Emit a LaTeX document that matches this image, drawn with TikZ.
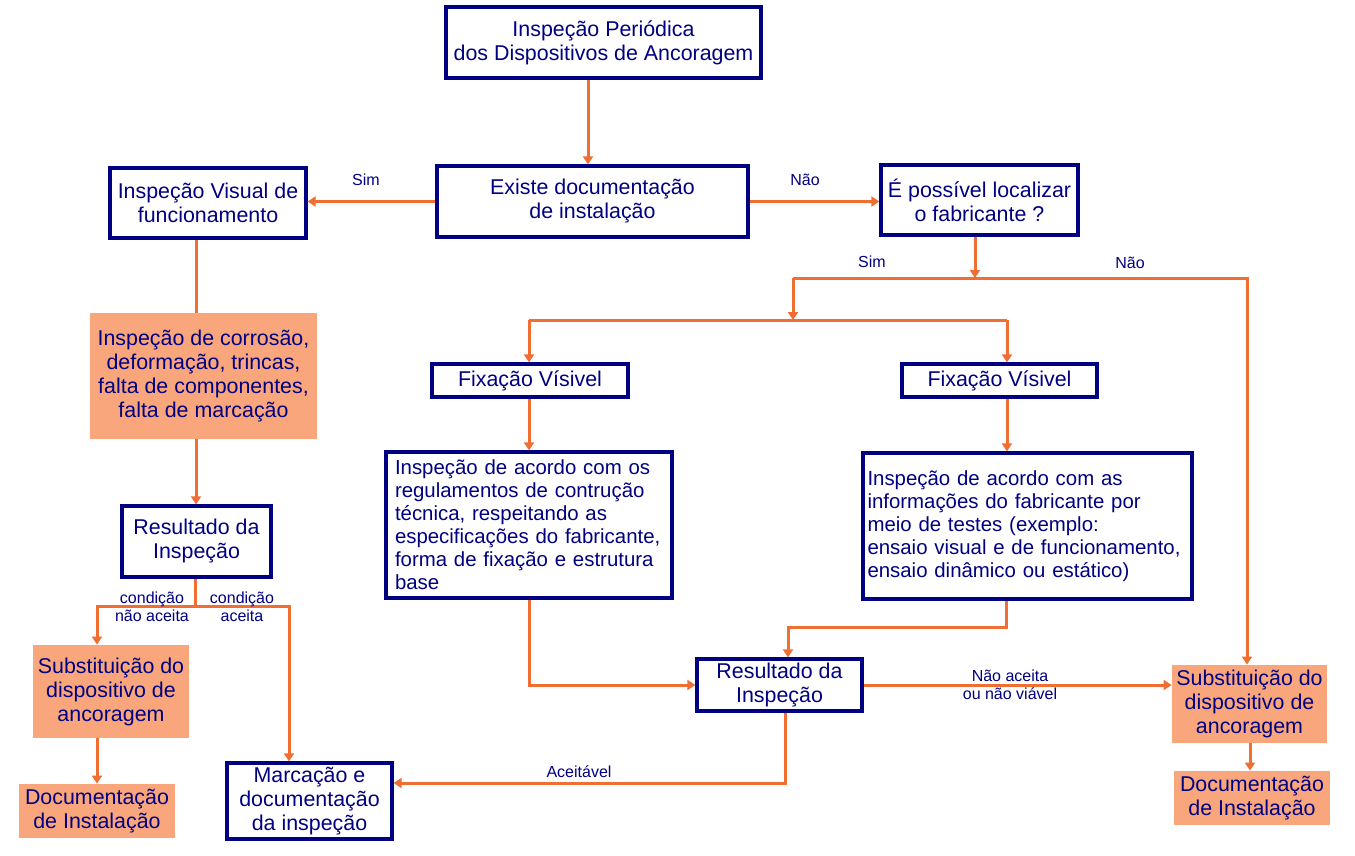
\documentclass[tikz,border=0pt]{standalone}
\usepackage{fontspec}
\setmainfont{Liberation Sans}
\usepackage{xcolor}
\usepackage{tikz}
\usetikzlibrary{shapes,arrows.meta,positioning}
\definecolor{boxnavy}{RGB}{0,0,128}
\definecolor{lineorange}{RGB}{241,110,50}
\definecolor{boxsalmon}{RGB}{250,166,124}

\begin{document}
\begin{tikzpicture}[
    x=0.5pt, y=-0.5pt,
    box/.style={draw=boxnavy, line width=1.6pt, rectangle, fill=white, text=boxnavy, align=center, inner sep=2pt, font=\fontsize{10.7}{12}\selectfont},
    textbox/.style={box, align=left, font=\fontsize{10.2}{11.5}\selectfont},
    alert/.style={rectangle, fill=boxsalmon, text=boxnavy, align=center, inner sep=2pt, font=\fontsize{10.7}{12}\selectfont},
    lbl/.style={text=boxnavy, align=center, inner sep=0pt, font=\fontsize{8}{9}\selectfont},
    arrow/.style={-{Triangle[length=4pt,width=5pt]}, draw=lineorange, line width=1.5pt},
    link/.style={draw=lineorange, line width=1.5pt}
]
    \useasboundingbox (0,0) rectangle (1355,856);

    \node[box, minimum width=157.5pt, minimum height=35.5pt] (top) at (603.5,42.5) {Inspeção Periódica\\dos Dispositivos de Ancoragem};
    \node[box, minimum width=155.5pt, minimum height=35.5pt] (exist) at (592.5,201.5) {Existe documentação\\de instalação};
    \node[box, minimum width=98pt, minimum height=35pt] (visual) at (208,203) {Inspeção Visual de\\funcionamento};
    \node[box, minimum width=98.5pt, minimum height=35pt] (local) at (979.5,200) {É possível localizar\\o fabricante ?};

    \node[alert, minimum width=113.5pt, minimum height=63pt] (corr) at (203.5,376) {Inspeção de corrosão,\\deformação, trincas,\\falta de componentes,\\falta de marcação};
    \node[box, minimum width=74.5pt, minimum height=35.5pt] (resL) at (196.5,541.5) {Resultado da\\Inspeção};
    \node[alert, minimum width=78pt, minimum height=46.5pt] (subL) at (111,691.5) {Substituição do\\dispositivo de\\ancoragem};
    \node[alert, minimum width=78pt, minimum height=27pt] (docL) at (97,811) {Documentação\\de Instalação};
    \node[box, minimum width=82.5pt, minimum height=38pt] (marc) at (309.5,801) {Marcação e\\documentação\\da inspeção};

    \node[box, minimum width=98pt, minimum height=16.5pt] (fixL) at (530,380.5) {Fixação Vísivel};
    \node[box, minimum width=97.5pt, minimum height=16.5pt] (fixR) at (999.5,380.5) {Fixação Vísivel};
    \node[textbox, text width=134pt, minimum width=143pt, minimum height=73pt] (regL) at (529,525) {Inspeção de acordo com os\\regulamentos de contrução\\técnica, respeitando as\\especificações do fabricante,\\forma de fixação e estrutura\\base};
    \node[textbox, text width=160pt, minimum width=164.5pt, minimum height=73pt] (regR) at (1027.5,526) {Inspeção de acordo com as\\informações do fabricante por\\meio de testes (exemplo:\\ensaio visual e de funcionamento,\\ensaio dinâmico ou estático)};
    \node[box, minimum width=82.5pt, minimum height=24pt] (resM) at (779.5,685) {Resultado da\\Inspeção};
    \node[alert, minimum width=77.5pt, minimum height=39pt] (subR) at (1249.5,704) {Substituição do\\dispositivo de\\ancoragem};
    \node[alert, minimum width=78pt, minimum height=27pt] (docR) at (1252,798) {Documentação\\de Instalação};

    \coordinate (j1) at (975,278);
    \coordinate (j2) at (793,278);
    \coordinate (j3) at (793,320);
    \coordinate (j4) at (529,320);
    \coordinate (j5) at (1007,320);
    \coordinate (j6) at (1247,278);
    \coordinate (j7) at (1006,627);
    \coordinate (j8) at (788,627);
    \coordinate (j9) at (785,783);
    \coordinate (j10) at (195,606);
    \coordinate (j11) at (97,606);
    \coordinate (j12) at (289,606);
    \coordinate (c1) at (196,0);
    \coordinate (c2) at (588,0);
    \coordinate (c4) at (1250,0);

    \draw[arrow] (c2 |- top.south) -- (c2 |- exist.north);
    \draw[arrow] (exist.west) -- (exist.west -| visual.east);
    \draw[arrow] (exist.east) -- (exist.east -| local.west);
    \draw[arrow] (j1 |- local.south) -- (j1);
    \draw[link] (j2) -- (j1);
    \draw[arrow] (j1) -- (j6) -- (j6 |- subR.north);
    \draw[arrow] (j2) -- (j3);
    \draw[link] (j4) -- (j5);
    \draw[arrow] (j4) -- (j4 |- fixL.north);
    \draw[arrow] (j5) -- (j5 |- fixR.north);
    \draw[arrow] (j4 |- fixL.south) -- (j4 |- regL.north);
    \draw[arrow] (j5 |- fixR.south) -- (j5 |- regR.north);
    \draw[arrow] (j4 |- regL.south) |- (resM.west);
    \draw[arrow] (j7 |- regR.south) -- (j7) -- (j8) -- (j8 |- resM.north);
    \draw[arrow] (resM.east) -- (resM.east -| subR.west);
    \draw[arrow] (j9 |- resM.south) -- (j9) -- (j9 -| marc.east);
    \draw[arrow] (c4 |- subR.south) -- (c4 |- docR.north);
    \draw[link] (c1 |- visual.south) -- (c1 |- corr.north);
    \draw[arrow] (c1 |- corr.south) -- (c1 |- resL.north);
    \draw[link] (j10 |- resL.south) -- (j10);
    \draw[arrow] (j10) -- (j11) -- (j11 |- subL.north);
    \draw[arrow] (j10) -- (j12) -- (j12 |- marc.north);
    \draw[arrow] (j11 |- subL.south) -- (j11 |- docL.north);

    \node[lbl] (simL) at (366,180) {Sim};
    \node[lbl] (naoT) at (805,180) {Não};
    \node[lbl] (simR) at (872,262) {Sim};
    \node[lbl] (naoR) at (1130,263) {Não};
    \node[lbl] (condN) at (152,607) {condição\\não aceita};
    \node[lbl] (condA) at (242,607) {condição\\aceita};
    \node[lbl] (naoAc) at (1010,685) {Não aceita\\ou não viável};
    \node[lbl] (aceit) at (579,772) {Aceitável};
\end{tikzpicture}
\end{document}
